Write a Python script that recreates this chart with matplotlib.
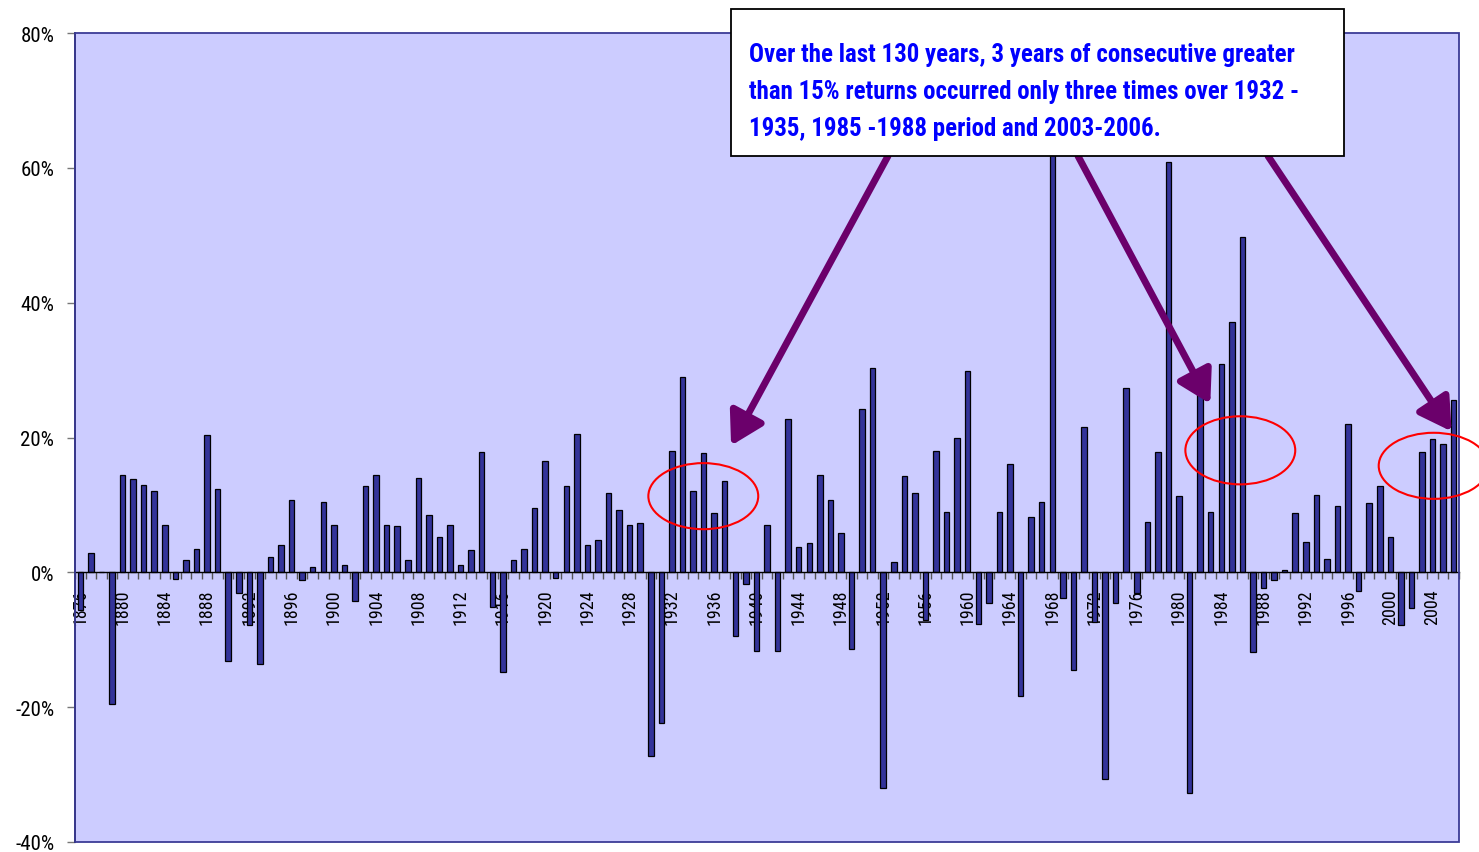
import os
import matplotlib
matplotlib.use("Agg")
import matplotlib.pyplot as plt
from matplotlib import font_manager as fm
from matplotlib.patches import Ellipse, Rectangle
import numpy as np

# Annual returns (%) 1876-2006
years = list(range(1876, 2007))
returns = [
    -5.6, 2.8, 0.0, -19.6, 14.5, 13.8, 13.0, 12.0, 7.0, -1.0,      # 1876-1885
    1.8, 3.5, 20.3, 12.3, -13.1, -3.0, -7.8, -13.6, 2.3, 4.0,      # 1886-1895
    10.8, -1.2, 0.8, 10.5, 7.0, 1.1, -4.2, 12.8, 14.5, 7.0,        # 1896-1905
    6.8, 1.8, 14.0, 8.5, 5.3, 7.0, 1.1, 3.3, 17.8, -5.2,           # 1906-1915
    -14.8, 1.8, 3.5, 9.5, 16.5, -0.8, 12.8, 20.5, 4.0, 4.8,        # 1916-1925
    11.7, 9.3, 7.0, 7.3, -27.3, -22.3, 18.0, 29.0, 12.0, 17.7,     # 1926-1935
    8.8, 13.5, -9.5, -1.8, -11.6, 7.0, -11.6, 22.8, 3.8, 4.3,      # 1936-1945
    14.5, 10.8, 5.8, -11.3, 24.3, 30.3, -32.0, 1.5, 14.3, 11.7,    # 1946-1955
    -7.0, 18.0, 9.0, 20.0, 29.8, -7.6, -4.5, 9.0, 16.0, -18.3,     # 1956-1965
    8.2, 10.5, 70.0, -3.8, -14.5, 21.6, -7.3, -30.7, -4.6, 27.3,   # 1966-1975
    -3.0, 7.5, 17.8, 60.9, 11.3, -32.7, 26.5, 9.0, 30.9, 37.2,     # 1976-1985
    49.7, -11.8, -2.3, -1.2, 0.3, 8.8, 4.5, 11.5, 2.0, 9.8,        # 1986-1995
    22.0, -2.8, 10.3, 12.8, 5.3, -7.8, -5.3, 17.8, 19.8, 19.0,     # 1996-2005
    25.5,                                                          # 2006
]
assert len(years) == len(returns)

label_years = list(range(1876, 2006, 4))
y_ticks = [-40, -20, 0, 20, 40, 60, 80]
y_tick_labels = [f"{v}%" for v in y_ticks]

note_lines = [
    "Over the last 130 years, 3 years of consecutive greater",
    "than 15% returns occurred only three times over 1932 -",
    "1935, 1985 -1988 period and 2003-2006.",
]

# highlighted runs: (centre year, centre value, width in years, height in %)
highlights = [(1934.97, 11.3, 10.4, 9.8), (1985.8, 18.1, 10.4, 10.1), (2004.1, 15.8, 10.4, 9.8)]
# arrow tips (year, %) and their start on the note box (figure px)
arrow_tips = [(1937.6, 18.8), (1982.96, 25.0), (2005.8, 20.9)]
arrow_starts = [(888, 853 - 157), (1078, 853 - 157), (1268, 853 - 157)]


def narrow_font(bold):
    """Return (FontProperties, is_narrow) for a narrow sans face, else Liberation Sans."""
    order = ["liberationsansnarrow", "arialnarrow", "robotocondensed",
             "notosans-condensed", "opensanscondensed", "opensans-condensed",
             "dejavusanscondensed"]
    wanted = ("-bold", "bold") if bold else ("", "-regular", "regular")
    files = sorted({f.fname for f in fm.fontManager.ttflist})
    for key in order:
        for fn in files:
            base = os.path.splitext(os.path.basename(fn))[0].lower().replace("_", "")
            if base.startswith(key) and base[len(key):] in wanted:
                return fm.FontProperties(fname=fn), True
    return fm.FontProperties(family="Liberation Sans", weight="bold" if bold else "normal"), False


W, H = 1479, 853
fig = plt.figure(figsize=(W / 100, H / 100), dpi=100)
fig.patch.set_facecolor("white")
renderer = fig.canvas.get_renderer()


def sized(prop, sample, target_px, base=15.0):
    p = prop.copy()
    p.set_size(base)
    w, _, _ = renderer.get_text_width_height_descent(sample, p, ismath=False)
    p.set_size(base * target_px / w)
    return p


reg, is_narrow = narrow_font(False)
ytick_prop = reg.copy()
xtick_prop = reg.copy()
ytick_prop.set_size(15 if is_narrow else 14)
xtick_prop.set_size(13 if is_narrow else 11.5)
note_prop = sized(narrow_font(True)[0], note_lines[0], 544)

ax = fig.add_axes([75 / W, (H - 843) / H, (1459 - 75) / W, (843 - 34) / H])
ax.set_facecolor("#CCCCFF")

ax.bar(years, returns, width=0.52, color="#333399", edgecolor="black", linewidth=0.9, zorder=3)

ax.set_xlim(1875.5, 2006.5)
ax.set_ylim(-40, 80)

# y axis
ax.set_yticks(y_ticks)
ax.set_yticklabels(y_tick_labels, fontproperties=ytick_prop)
ax.tick_params(axis="y", direction="out", length=6, width=1, color="#777777", pad=9)

# x axis crossing at zero with ticks between categories
ax.spines["bottom"].set_position(("data", 0))
ax.spines["bottom"].set_color("black")
ax.spines["bottom"].set_linewidth(1.0)
ax.spines["bottom"].set_zorder(4)
ax.set_xticks(label_years)
ax.set_xticklabels([str(y) for y in label_years], rotation=90, fontproperties=xtick_prop)
ax.set_xticks(np.arange(1875.5, 2007, 1.0), minor=True)
ax.tick_params(axis="x", which="major", length=0, pad=11.5)
ax.tick_params(axis="x", which="minor", direction="out", length=5, width=1, color="#555555")

for side in ("top", "right"):
    ax.spines[side].set_visible(False)
ax.spines["left"].set_color("black")
ax.spines["left"].set_linewidth(1.2)

# plot-area frame
ax.add_patch(Rectangle((0, 0), 1, 1, transform=ax.transAxes, fill=False,
                       edgecolor="#3B3B96", linewidth=1.3, zorder=5, clip_on=False))

# red ellipses around the three runs
for cx, cy, w, h in highlights:
    ax.add_patch(Ellipse((cx, cy), w, h, fill=False, edgecolor="#FF0000",
                         linewidth=1.5, zorder=6, clip_on=False))

# arrows from the note to each run
for (tx, ty), (sx, sy) in zip(arrow_tips, arrow_starts):
    ax.annotate("", xy=(tx, ty), xycoords="data",
                xytext=(sx, sy), textcoords="figure pixels",
                arrowprops=dict(arrowstyle="-|>,head_length=0.65,head_width=0.38",
                                mutation_scale=30, color="#6B006B", linewidth=5,
                                shrinkA=0, shrinkB=0),
                zorder=7, annotation_clip=False)

# note box
fig.patches.append(Rectangle((731 / W, (H - 157) / H), (1344 - 731) / W, (157 - 10) / H,
                             transform=fig.transFigure, facecolor="white",
                             edgecolor="black", linewidth=1.3, zorder=10))
for i, line in enumerate(note_lines):
    fig.text(749 / W, (H - (55 + 37 * i)) / H, line, color="#0000FF",
             fontproperties=note_prop, ha="left", va="center", zorder=11)

fig.savefig("out.png", dpi=100)
